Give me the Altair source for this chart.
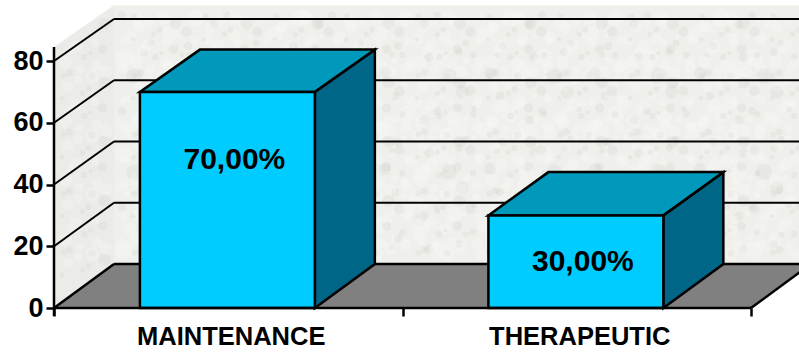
import altair as alt
import pandas as pd

# Chart values
categories = ["MAINTENANCE", "THERAPEUTIC"]
values = [70, 30]
value_labels = ["70,00%", "30,00%"]
y_ticks = [0, 20, 40, 60, 80]
x_ticks = [0, 1, 2]

# One tile of the wall's marbled surface: offsets in pixels, shade class and fleck area
fleck_dx = [4, 22, 41, 60, 78, 96, 12, 33, 52, 70, 90, 6, 26, 47, 64, 84, 101, 16, 37, 57, 76, 94, 9, 29, 44, 67, 87]
fleck_dy = [5, 12, 3, 16, 8, 14, 27, 33, 24, 36, 29, 48, 42, 52, 45, 55, 47, 66, 72, 63, 75, 68, 88, 82, 94, 86, 92]
fleck_dark = [1, 0, 1, 0, 0, 1, 0, 1, 0, 1, 0, 0, 1, 0, 1, 0, 1, 1, 0, 1, 0, 0, 0, 1, 0, 1, 0]
fleck_area = [60, 210, 35, 120, 300, 80, 160, 45, 260, 70, 130, 340, 55, 110, 30, 190, 90, 240, 40, 140, 75, 280, 50, 170, 100, 65, 220]

# Projection of the 3-D box in data units
PX_PER_CAT = 348.5
PX_PER_VALUE = 3.0875
DEPTH_X = 60 / PX_PER_CAT
DEPTH_Y = 44 / PX_PER_VALUE
BACK_SCALE = 0.992
X_DOMAIN = [-54 / PX_PER_CAT, (799 - 54) / PX_PER_CAT]
Y_DOMAIN = [-44 / PX_PER_VALUE, 308 / PX_PER_VALUE]
WALL_TOP = 84.5
BAR_LEFT = 0.2465
BAR_WIDTH = 0.502

xs = alt.Scale(domain=X_DOMAIN, nice=False, zero=False)
ys = alt.Scale(domain=Y_DOMAIN, nice=False, zero=False)

x_axis = alt.Axis(
    values=x_ticks, labels=False, title=None, domain=False, grid=False, offset=-44,
    tickSize=8, tickWidth=2.5, tickColor="black", zindex=1,
)
y_axis = alt.Axis(
    values=y_ticks, title=None, domain=False, grid=False, offset=-54,
    tickSize=8, tickWidth=2.5, tickColor="black", labelColor="black", labelPadding=3,
    labelFont="Liberation Sans", labelFontWeight="bold", labelFontSize=27, zindex=1,
)


def X(field="x"):
    return alt.X(field, type="quantitative", scale=xs, axis=x_axis)


def Y(field="y"):
    return alt.Y(field, type="quantitative", scale=ys, axis=y_axis)


def back(v):
    return DEPTH_Y + v * BACK_SCALE


# Back wall and left wall
back_wall = alt.Chart(pd.DataFrame({"x": [DEPTH_X], "x2": [X_DOMAIN[1]], "y": [back(0)], "y2": [back(WALL_TOP)]})).mark_rect(
    color="#efefeb", clip=True
).encode(x=X(), x2="x2", y=Y(), y2="y2")

left_wall = alt.Chart(pd.DataFrame({"x": [0, DEPTH_X], "y": [0, back(0)], "y2": [WALL_TOP, back(WALL_TOP)]})).mark_area(
    color="#ebebe8", orient="vertical"
).encode(x=X(), y=Y(), y2="y2")


def in_left_wall(px, py):
    # The left wall's edges rise 44 px over its 60 px depth
    rise = (px - 54) * 44 / 60
    return 62 <= px <= 108 and 47 - rise + 10 <= py <= 308 - rise - 10


# Marbling: two tiles stepped at different periods so that no row lines up
fleck_rows = []
for col_step, row_step, x0, y0, flip, scale in [(105, 96, 118, 10, False, 1.0), (71, 59, 60, 14, True, 0.6)]:
    for col in range(12):
        for row in range(5):
            for dx, dy, dark, area in zip(fleck_dx, fleck_dy, fleck_dark, fleck_area):
                px = x0 + col * col_step + (dy if flip else dx) * (col_step / 105)
                py = y0 + row * row_step + (dx if flip else dy) * (row_step / 96)
                on_back = 122 <= px <= 799 and 14 <= py <= 254
                if on_back or in_left_wall(px, py):
                    fleck_rows.append({
                        "x": (px - 54) / PX_PER_CAT,
                        "y": (308 - py) / PX_PER_VALUE,
                        "c": "#c8c8c4" if dark else "#ffffff",
                        "s": area * scale,
                    })
flecks = alt.Chart(pd.DataFrame(fleck_rows)).mark_circle(opacity=0.2, clip=True).encode(
    x=X(), y=Y(), color=alt.Color("c:N", scale=None),
    size=alt.Size("s:Q", scale=None),
)

# Gridlines: along the back wall, then running forward over the left wall
grid_values = y_ticks[1:]
back_grid = alt.Chart(pd.DataFrame({
    "x": [DEPTH_X] * len(grid_values), "x2": [X_DOMAIN[1]] * len(grid_values),
    "y": [back(v) for v in grid_values],
})).mark_rule(color="black", strokeWidth=2, clip=True).encode(x=X(), x2="x2", y=Y())

side_grid = alt.Chart(pd.DataFrame({
    "x": [0] * len(grid_values), "x2": [DEPTH_X] * len(grid_values),
    "y": grid_values, "y2": [back(v) for v in grid_values],
})).mark_rule(color="black", strokeWidth=2).encode(x=X(), x2="x2", y=Y(), y2="y2")

# Floor
floor = alt.Chart(pd.DataFrame({"y": [0, DEPTH_Y], "x": [0, DEPTH_X], "x2": [2, 2 + DEPTH_X]})).mark_area(
    color="#808080", orient="horizontal", clip=True
).encode(y=Y(), x=X(), x2="x2")

floor_edges = alt.Chart(pd.DataFrame({
    "x": [DEPTH_X, 0, 2], "x2": [X_DOMAIN[1], DEPTH_X, 2 + DEPTH_X],
    "y": [DEPTH_Y, 0, 0], "y2": [DEPTH_Y, DEPTH_Y, DEPTH_Y],
})).mark_rule(color="black", strokeWidth=2.5, clip=True).encode(x=X(), x2="x2", y=Y(), y2="y2")

# Bars: side, top and front faces
lefts = [i + BAR_LEFT for i in range(len(values))]
rights = [x + BAR_WIDTH for x in lefts]

layers_bars = []
for left, right, value in zip(lefts, rights, values):
    side = alt.Chart(pd.DataFrame({
        "x": [right, right + DEPTH_X], "y": [0, DEPTH_Y], "y2": [value, back(value)],
    })).mark_area(color="#006688", stroke="black", strokeWidth=2.5, orient="vertical").encode(x=X(), y=Y(), y2="y2")
    top = alt.Chart(pd.DataFrame({
        "y": [value, back(value)], "x": [left, left + DEPTH_X], "x2": [right, right + DEPTH_X],
    })).mark_area(color="#0099bb", stroke="black", strokeWidth=2.5, orient="horizontal").encode(y=Y(), x=X(), x2="x2")
    front = alt.Chart(pd.DataFrame({"x": [left], "x2": [right], "y": [0], "y2": [value]})).mark_rect(
        color="#00ccff", stroke="black", strokeWidth=2.5
    ).encode(x=X(), x2="x2", y=Y(), y2="y2")
    layers_bars += [side, top, front]

# Value labels, placed part-way up each bar
label_share = [0.685, 0.5]
labels = alt.Chart(pd.DataFrame({
    "x": [(l + r) / 2 for l, r in zip(lefts, rights)],
    "y": [v * s for v, s in zip(values, label_share)],
    "t": value_labels,
})).mark_text(font="Liberation Sans", fontWeight="bold", fontSize=30, color="black", dx=7).encode(
    x=X(), y=Y(), text="t:N"
)

# Category labels under the floor
cats = alt.Chart(pd.DataFrame({"x": [i + 0.5 for i in range(len(categories))], "t": categories})).mark_text(
    font="Liberation Sans", fontWeight="bold", fontSize=25.5, color="black", dx=3
).encode(x=X(), y=alt.value(337), text="t:N")

# Axis lines
y_axis_line = alt.Chart(pd.DataFrame({"x": [0], "y": [-2.6], "y2": [WALL_TOP]})).mark_rule(
    color="black", strokeWidth=2.5
).encode(x=X(), y=Y(), y2="y2")
x_axis_line = alt.Chart(pd.DataFrame({"x": [0], "x2": [2], "y": [0]})).mark_rule(
    color="black", strokeWidth=2.5
).encode(x=X(), x2="x2", y=Y())

chart = alt.layer(
    back_wall, left_wall, flecks, back_grid, side_grid, floor, floor_edges,
    *layers_bars, labels, cats, y_axis_line, x_axis_line,
).properties(
    width=799, height=352, padding=0, autosize=alt.AutoSizeParams(type="none"),
    background="white",
).configure_view(stroke=None)

chart.save("out.html", embed_options={"renderer": "svg", "actions": False})
